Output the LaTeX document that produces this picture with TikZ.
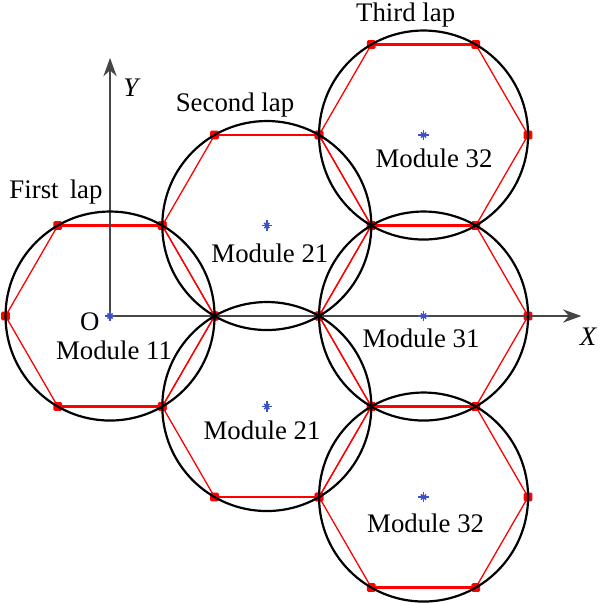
\documentclass[tikz,border=0pt]{standalone}
\usepackage{fontspec}
\setmainfont{Liberation Serif}
\usetikzlibrary{arrows.meta,calc}
\definecolor{axgray}{RGB}{70,70,70}
\definecolor{mkblue}{RGB}{60,80,200}
\begin{document}
\begin{tikzpicture}[
  ring/.style={draw=black, line width=0.6pt},
  hexs/.style={draw=red, line width=0.35pt},
  hexh/.style={draw=red, line width=0.6pt},
  vdot/.style={fill=red, draw=none, rectangle, rounded corners=0.4pt, inner sep=0pt, minimum size=2.4pt},
  axis/.style={draw=axgray, line width=0.55pt, -{Stealth[length=5pt,width=3.6pt]}},
  lab/.style={font=\fontsize{7.3}{8}\selectfont, inner sep=0pt},
  mk/.style={draw=mkblue, line width=0.4pt},
]
\useasboundingbox (-1.053,-2.746) rectangle (4.689,3.024);
% centres and hexagon vertices
\foreach \n/\x/\y in {m11/0/0, m21a/1.5/0.866, m21b/1.5/-0.866, m31/3/0, m32a/3/1.732, m32b/3/-1.732} {
  \coordinate (\n) at (\x,\y);
  \foreach \k in {0,...,5} {\coordinate (\n-\k) at ($(\n)+(\k*60:1)$);}
}
% red hexagons
\foreach \n in {m11,m21a,m21b,m31,m32a,m32b} {
  \draw[hexs] (\n-0) -- (\n-1) (\n-2) -- (\n-3) -- (\n-4) (\n-5) -- (\n-0);
  \draw[hexh] (\n-1) -- (\n-2) (\n-4) -- (\n-5);
  \foreach \k in {0,...,5} {\node[vdot] at (\n-\k) {};}
}
% axes
\coordinate (ytip) at (0,2.47);
\coordinate (xtip) at (4.51,0);
\draw[axis] (m11) -- (ytip);
\draw[axis] (m11) -- (xtip);
% circles and centre markers
\foreach \n in {m11,m21a,m21b,m31,m32a,m32b} {
  \draw[ring] (\n) circle (1);
  \draw[mk] ([xshift=-1.4pt]\n) -- ([xshift=1.4pt]\n);
  \draw[mk] ([yshift=-1.4pt]\n) -- ([yshift=1.4pt]\n);
  \draw[mk] ([shift={(-0.7pt,-0.7pt)}]\n) -- ([shift={(0.7pt,0.7pt)}]\n);
  \draw[mk] ([shift={(-0.7pt,0.7pt)}]\n) -- ([shift={(0.7pt,-0.7pt)}]\n);
}
% labels
\node[lab] (l1) at (-0.517,1.187) {First\, lap};
\node[lab] (l2) at (1.196,2.014) {Second lap};
\node[lab] (l3) at (2.829,2.88) {Third lap};
\node[lab] (t11) at (0.038,-0.325) {Module 11};
\node[lab] (t21a) at (1.53,0.603) {Module 21};
\node[lab] (t21b) at (1.455,-1.09) {Module 21};
\node[lab] (t31) at (2.976,-0.21) {Module 31};
\node[lab] (t32a) at (3.10,1.51) {Module 32};
\node[lab] (t32b) at (3.02,-1.98) {Module 32};
\node[lab] (o) at (-0.194,-0.057) {O};
\node[lab, font=\fontsize{7.3}{8}\selectfont\itshape] (ylab) at (0.198,2.18) {Y};
\node[lab, font=\fontsize{7.3}{8}\selectfont\itshape] (xlab) at (4.574,-0.2) {X};
\end{tikzpicture}
\end{document}
